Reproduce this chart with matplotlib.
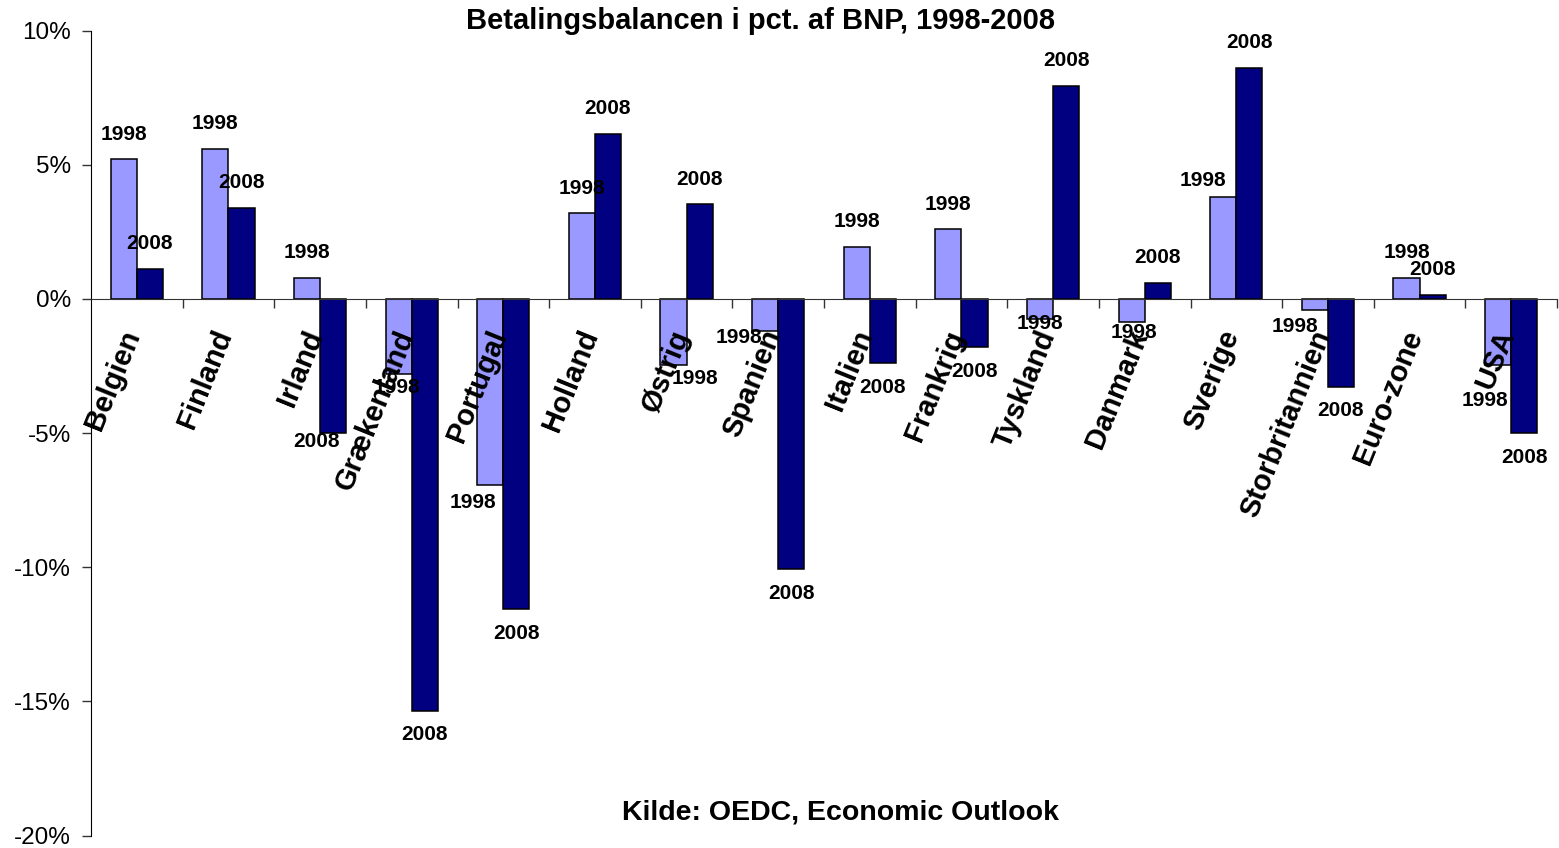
import numpy as np
import matplotlib
matplotlib.use("Agg")
import matplotlib.pyplot as plt

plt.rcParams['font.family'] = ['Liberation Sans', 'DejaVu Sans']

countries = ['Belgien', 'Finland', 'Irland', 'Grækenland', 'Portugal', 'Holland',
             'Østrig', 'Spanien', 'Italien', 'Frankrig', 'Tyskland', 'Danmark',
             'Sverige', 'Storbritannien', 'Euro-zone', 'USA']
bal_1998 = [5.2, 5.6, 0.8, -2.8, -6.95, 3.2, -2.45, -1.2, 1.95, 2.6, -0.75, -0.87,
            3.8, -0.41, 0.79, -2.47]
bal_2008 = [1.12, 3.4, -5.0, -15.35, -11.56, 6.16, 3.53, -10.08, -2.4, -1.8, 7.95, 0.6,
            8.62, -3.27, 0.15, -5.0]
yticks = [10, 5, 0, -5, -10, -15, -20]

title = 'Betalingsbalancen i pct. af BNP, 1998-2008'
source = 'Kilde: OEDC, Economic Outlook'

# label nudges (pixels) where the labels were moved by hand in the original
nudge_1998 = {3: (-2, -13), 4: (-17, -17), 6: (21, -14), 7: (-26, -6), 10: (0, -4),
              11: (2, -10), 12: (-20, 17), 13: (-20, -17), 15: (-13, -35)}
nudge_2008 = {2: (-17, -8)}

fig = plt.figure(figsize=(15.59, 8.48), dpi=100)
W, H = 1559, 848
ax = fig.add_axes([91 / W, 1 - 835.5 / H, (1557 - 91) / W, (835.5 - 30.7) / H])

x = np.arange(len(countries))
bw = 0.285
b1 = ax.bar(x - bw / 2, bal_1998, bw, color='#9999FF', edgecolor='black', linewidth=1.1, zorder=2)
b2 = ax.bar(x + bw / 2, bal_2008, bw, color='#000080', edgecolor='black', linewidth=1.1, zorder=2)

ax.set_xlim(-0.5, len(countries) - 0.5)
ax.set_ylim(-20, 10)
ax.set_yticks(yticks)
ax.set_yticklabels([f'{v}%' for v in yticks], fontsize=17.5)
ax.set_xticks(np.arange(len(countries)) + 0.5)
ax.set_xticklabels([])
ax.tick_params(axis='both', direction='out', length=6.5, width=1, color='#333333')
ax.tick_params(axis='y', pad=8)

for s in ['top', 'right']:
    ax.spines[s].set_visible(False)
ax.spines['bottom'].set_position(('data', 0))
ax.spines['bottom'].set_color('#333333')
ax.spines['left'].set_color('black')


def put_labels(bars, vals, year, nudge):
    for i, (b, v) in enumerate(zip(bars, vals)):
        dx, dy = nudge.get(i, (0, 25 if v >= 0 else -24))
        ax.annotate(year, (b.get_x() + b.get_width() / 2, v), xytext=(dx, dy),
                    textcoords='offset pixels', ha='center', va='center',
                    fontsize=15, fontweight='bold', zorder=4)


put_labels(b1, bal_1998, '1998', nudge_1998)
put_labels(b2, bal_2008, '2008', nudge_2008)

for i, name in enumerate(countries):
    ax.text(i - 0.19, -1.0, name, rotation=68, rotation_mode='anchor',
            ha='right', va='top', fontsize=21, fontweight='bold', zorder=5)

fig.text(760 / W, 1 - 21 / H, title, ha='center', va='center', fontsize=21, fontweight='bold')
fig.text(841 / W, 1 - 812 / H, source, ha='center', va='center', fontsize=20.5, fontweight='bold')

fig.savefig('out.png', dpi=100)
